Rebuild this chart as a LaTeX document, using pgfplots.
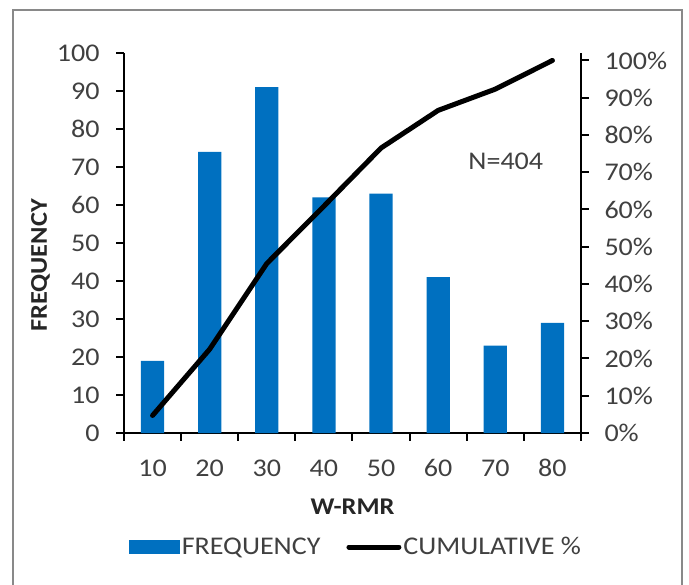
\documentclass[border=0pt]{standalone}
\usepackage{fontspec}
\setmainfont{Carlito}[FakeStretch=1.1]
\usepackage{pgfplots}
\pgfplotsset{compat=1.18}
\definecolor{barblue}{RGB}{0,112,192}
\definecolor{txt}{RGB}{64,64,64}
\definecolor{framegray}{RGB}{137,137,137}
\newcommand{\chartfont}{\fontsize{25.5bp}{29bp}\selectfont}
\newcommand{\labelfont}{\fontsize{24bp}{28bp}\selectfont}
\begin{document}
\begin{tikzpicture}
\useasboundingbox (0,0) rectangle (689bp,585bp);
\begin{scope}
\clip (0,0) rectangle (689bp,585bp);
\draw[framegray, line width=1.4bp] (13bp,-10bp) rectangle (682bp,575bp);
\end{scope}
\begin{axis}[
  at={(124bp,152bp)}, anchor=south west,
  width=457bp, height=380bp, scale only axis,
  xmin=0.5, xmax=8.5, ymin=0, ymax=100,
  axis x line*=bottom, axis y line*=left,
  axis line style={black, line width=2bp},
  tick align=outside, major tick length=8bp,
  tick style={black, line width=2bp},
  xtick={0.5,1.5,...,8.5}, xticklabels={},
  extra x ticks={1,2,3,4,5,6,7,8},
  extra x tick labels={10,20,30,40,50,60,70,80},
  extra x tick style={major tick length=0pt, xticklabel style={yshift=-23bp}},
  ytick={0,10,...,100},
  yticklabel style={xshift=-13bp},
  /pgf/number format/assume math mode=true,
  tick label style={font=\chartfont, text=txt},
  xlabel={W-RMR}, ylabel={FREQUENCY},
  label style={font=\labelfont\bfseries, text=black!85},
  xlabel style={at={(axis description cs:0.5,-0.1947)}, anchor=center},
  ylabel style={at={(axis description cs:-0.1827,0.4408)}, anchor=center},
  clip=false,
]
\addplot[ybar, bar width=23.3bp, fill=barblue, draw=none] coordinates {
  (1,19) (2,74) (3,91) (4,62) (5,63) (6,41) (7,23) (8,29)
};
\node[font=\chartfont, text=txt] at (axis description cs:0.8354,0.714) {N=404};
\end{axis}
\begin{axis}[
  at={(124bp,152bp)}, anchor=south west,
  width=457bp, height=380bp, scale only axis,
  xmin=0.5, xmax=8.5, ymin=0, ymax=102,
  axis x line=none, axis y line*=right,
  axis line style={black, line width=2bp},
  tick align=outside, major tick length=8bp,
  tick style={black, line width=2bp},
  ytick={0,10,...,100},
  yticklabel={\pgfmathprintnumber{\tick}\%},
  yticklabel style={xshift=12bp},
  /pgf/number format/assume math mode=true,
  tick label style={font=\chartfont, text=txt},
  clip=false,
  legend columns=2,
  legend style={draw=none, fill=none, at={(0.508,-0.3)}, anchor=center,
    font=\chartfont, text=txt,
    /tikz/every even column/.append style={column sep=24bp}},
]
\addlegendimage{legend image code/.code={\fill[barblue] (-4bp,-6.5bp) rectangle (46bp,6.5bp);}}
\addlegendentry{FREQUENCY}
\addplot[black, line width=5bp, line join=round, line cap=round,
  legend image code/.code={\draw[black, line width=5bp, line cap=round] (0bp,0bp) -- (50bp,0bp);}]
  coordinates {(1,4.7) (2,22.5) (3,45.5) (4,60.9) (5,76.5) (6,86.6) (7,92.3) (8,100)};
\addlegendentry{CUMULATIVE \%}
\end{axis}
\end{tikzpicture}
\end{document}
